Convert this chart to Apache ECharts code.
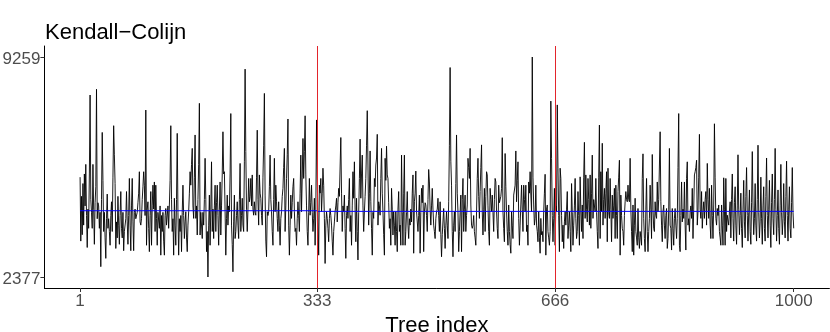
<!DOCTYPE html>
<html><head><meta charset="utf-8">
<script src="https://cdn.jsdelivr.net/npm/echarts@6/dist/echarts.min.js"></script>
<style>html,body{margin:0;padding:0;background:#fff}#c{width:830px;height:332px}</style>
</head><body><div id="c"></div>
<script>
const treeValues = [
5500,3500,4900,3700,5300,4000,5600,4600,5900,4300,
3300,4500,3900,5600,8070,4800,4400,3900,5900,4500,
3400,4700,5200,8250,4200,4700,4600,3900,4400,2700,
4800,6900,5400,3800,4400,3600,2960,4200,4970,3900,
4200,3800,3370,4300,4730,3800,5500,7110,6200,5300,
3270,4100,3600,4900,4000,3400,4300,5050,3900,3600,
4400,3200,3800,3800,4200,5050,4100,3400,4300,5460,
4000,3200,4600,5460,4100,3200,4400,4500,4200,4200,
4400,4700,5000,5670,4100,4000,4200,4800,5200,5670,
5250,4300,7600,3370,4500,4730,3900,3170,4300,5050,
3370,4600,5250,4500,5350,3800,5250,4200,3370,4400,
4420,3900,4600,3060,4300,3800,4400,3500,3060,4300,
4520,4000,4000,4600,3900,4630,5400,7110,4800,3800,
4200,3060,4840,4000,3370,4800,6870,4400,3060,4200,
3800,4300,3170,4400,5250,4300,3580,4100,4420,3600,
3170,4000,4420,5000,5670,5250,5900,6400,4600,4210,
5500,6820,4210,4600,3690,4800,5900,7810,3690,4400,
4420,3580,4400,4000,4800,6090,4800,3170,3800,2377,
4000,4940,3370,4500,5980,3800,4500,3580,4600,5250,
3800,4700,5250,4300,3370,4500,5350,3690,4600,5600,
6920,5600,5670,4420,3060,4200,4940,4000,4600,4420,
5600,7490,4000,3400,2540,4100,4940,3580,3800,4300,
4730,4000,3580,4800,5930,3800,4300,4840,4000,3800,
6000,8880,6300,4500,3800,4500,5460,4730,4900,5460,
4600,5570,4500,4310,4730,4400,4310,5500,6970,4800,
4000,5570,5000,4840,4300,4000,5500,6500,8120,4940,
3500,3010,4420,4300,4420,5200,6190,4800,4420,3800,
3370,4800,6090,4420,5250,4730,4200,3800,4730,4000,
3370,4200,4420,4900,5150,5800,6400,3800,4600,5460,
6200,7320,4000,3060,4000,4940,4210,4700,5200,5460,
4420,3800,3900,3370,4200,4730,4300,3800,5000,6190,
4420,5500,6710,5460,6300,7420,5570,4600,3800,3370,
4400,5460,4310,4700,5250,4400,3800,4200,4840,3370,
4500,7290,5500,4100,3060,5250,5000,5460,4420,5000,
5780,5250,4200,2800,4000,4420,4210,3900,3480,4200,
4520,4300,4000,3500,3060,3800,4100,4420,4600,4840,
4100,4700,5150,4900,4840,6740,5000,3800,4600,4420,
4940,3900,2960,4310,4600,4210,4800,5460,3800,4300,
3370,4600,5670,4840,5980,4500,3480,4840,3800,2910,
4400,5460,6690,4840,5600,6190,4600,3800,4420,4900,
5460,6500,7580,5880,4000,5000,6320,4730,3900,3060,
4400,4210,5460,5200,5880,6100,6840,4000,4730,4600,
4310,5460,6400,5000,4420,3700,3060,6090,5400,6470,
5570,5460,4700,3900,4200,3370,5150,4500,3690,4420,
4000,3370,4420,3800,3170,4500,5050,3800,4000,3370,
6190,4400,3370,5000,6190,3370,3800,4400,5050,4000,
3580,4200,4000,4500,4100,5000,5570,3120,4730,5000,
5690,4420,4400,3800,4300,4940,3120,4400,5150,4700,
5250,3170,4420,4700,4630,4300,3800,4800,5740,5350,
4500,4000,4600,5150,4500,4000,3800,3580,4200,4420,
4500,4840,4300,3800,4730,3700,3010,3700,3690,4520,
3900,3270,4000,4420,4000,3580,4730,6500,8930,6000,
5250,3800,3010,4000,4420,3800,5300,6820,5000,4420,
3170,3800,4400,4940,3170,4800,5460,3800,4500,4940,
3800,4300,4630,6090,5800,5460,6400,4630,4000,3900,
4000,4300,3800,3600,3370,3370,5460,6090,4900,4210,
5050,5800,6510,4420,3690,4500,5150,3800,4900,5670,
5570,4600,3800,3370,5150,4800,4420,4940,4400,3800,
4800,5460,5350,4420,3900,3580,5250,4700,4730,4900,
5150,6735,4420,3900,3480,6240,5200,4420,3800,3370,
4630,3800,3400,3120,4420,4000,3580,4940,5000,5250,
6320,4730,5400,5980,4210,3370,4000,4630,5250,4500,
3800,5250,4800,4420,5250,3800,4000,3370,5350,5000,
5670,4940,4420,9259,5500,4630,4000,4210,5250,4000,
3800,3480,4420,3600,3120,4210,3700,3800,3480,4420,
5000,5590,3060,4500,4630,3800,3600,3370,3800,7880,
6090,4300,3480,4200,5150,3370,4600,4420,7760,5780,
4300,3170,5780,5460,4300,3480,4000,3270,4100,4420,
4000,4500,5050,3580,4000,4420,3800,3170,5300,4400,
3370,4000,4600,5460,4200,3580,3800,5050,4300,3370,
5510,4500,3800,4630,3580,5500,6590,4210,5570,4500,
4100,5460,4800,4000,5570,3900,5000,6190,4210,4800,
4840,4420,5460,4400,3800,3270,5500,7130,3580,5670,
4420,6560,4000,4800,5150,4210,5000,5670,3480,5780,
4400,4210,5460,4500,3480,4940,4210,4600,5150,3580,
5250,4300,3580,5050,5500,6030,3060,4940,4300,3900,
3800,3370,4300,4730,5050,4800,4730,5250,4800,4730,
6090,4500,3800,3170,4630,3060,4000,4840,3800,3600,
3370,4520,3600,3270,3800,3600,3370,5460,6230,4200,
3580,3170,4500,5460,3800,3170,3800,4210,5250,4500,
3580,6210,4500,3900,3800,4730,4300,4210,5350,4420,
4800,4840,6920,4730,4000,3480,4420,4630,4000,3580,
4300,4520,3270,3580,4500,6400,4000,3900,3220,4520,
3900,3370,4210,4520,4000,3580,4210,5800,7490,3370,
3170,4300,5350,4100,4500,4210,5350,4000,3220,5460,
5980,4000,4200,3800,4420,4600,4210,5150,3580,4500,
5570,5670,5800,6030,4000,4420,5500,6840,4500,4210,
5050,3900,4400,4730,4210,4800,5050,4000,5930,4800,
4210,5150,4000,3580,5250,4300,3580,4630,7170,5500,
4210,4000,4520,4300,4630,3800,3600,3370,4630,4000,
3370,5480,4500,3370,5460,3800,4310,4300,4000,4420,
4730,3600,4800,5600,4200,3500,4700,5200,4000,3400,
4600,6200,4500,3700,4300,5000,3900,3300,4500,5400,
4100,3600,4900,5800,4300,3500,4400,5100,3800,3400,
4700,6300,4600,3700,4200,5300,4000,3500,4800,6500,
4400,3600,4100,5500,4200,3400,4600,5200,3900,3500,
4900,6100,4300,3600,4500,5400,4000,3300,4700,5600,
4200,3700,4800,6400,4500,3500,4300,5100,3900,3400,
4600,5900,4400,3700,4200,5300,4100,3600,4900,6000,
4300,3500,4500,5200,3900,3600,4700,5800,4400,3900
];
const xTickValues = [1, 333, 666, 1000];
const yTickValues = [2377, 9259];
const splitIndices = [333, 666];
const meanSegStart = [1, 333, 666];
const meanSegEnd = [333, 666, 1000];
const meanSegValue = [4450, 4430, 4430];

const chart = echarts.init(document.getElementById('c'), null, {renderer: 'canvas'});
const FONT = 'Liberation Sans, Arial, Helvetica, sans-serif';
const traceData = treeValues.map((v, i) => [i + 1, v]);
const xMin = 1 - 0.05 * 999, xMax = 1000 + 0.05 * 999;
const yR = 9259 - 2377;
const yMin = 2377 - 0.05 * yR, yMax = 9259 + 0.05 * yR;

const meanSeries = meanSegStart.map((s, k) => ({
  type: 'line', silent: true, showSymbol: false, symbol: 'none', z: 3,
  data: [[s, meanSegValue[k]], [meanSegEnd[k], meanSegValue[k]]],
  lineStyle: {color: '#0000ff', width: 1}, animation: false
}));

chart.setOption({
  animation: false,
  backgroundColor: '#ffffff',
  title: {
    text: 'Kendall\u2212Colijn', left: 40, top: 17,
    textStyle: {fontFamily: FONT, fontSize: 22, fontWeight: 'normal', color: '#000'}
  },
  grid: {left: 44.4, right: 0.6, top: 46, bottom: 44, containLabel: false, outerBoundsMode: 'none'},
  xAxis: {
    type: 'value', min: xMin, max: xMax,
    name: 'Tree index', nameLocation: 'middle', nameGap: 18,
    nameTextStyle: {fontFamily: FONT, fontSize: 22, color: '#000'},
    axisLine: {show: true, onZero: false, lineStyle: {color: '#000', width: 1}},
    axisTick: {show: true, customValues: xTickValues, length: 4, lineStyle: {color: '#333', width: 1}},
    axisLabel: {customValues: xTickValues, formatter: v => String(v), fontFamily: FONT, fontSize: 17, color: '#4d4d4d', margin: 5},
    splitLine: {show: false}
  },
  yAxis: {
    type: 'value', min: yMin, max: yMax,
    axisLine: {show: true, onZero: false, lineStyle: {color: '#000', width: 1}},
    axisTick: {show: true, customValues: yTickValues, length: 4, lineStyle: {color: '#333', width: 1}},
    axisLabel: {
      customValues: yTickValues, margin: 4,
      formatter: v => '{t|' + v + '}',
      rich: {t: {fontFamily: FONT, fontSize: 17, color: '#4d4d4d', padding: [4, 0, 0, 0]}}
    },
    splitLine: {show: false}
  },
  series: [
    {
      type: 'line', data: traceData, showSymbol: false, symbol: 'none', sampling: 'none',
      lineStyle: {color: '#000', width: 0.9}, z: 2, silent: true
    },
    ...meanSeries,
    {
      type: 'line', data: [], z: 4, silent: true,
      markLine: {
        silent: true, symbol: 'none', label: {show: false},
        lineStyle: {color: '#e3242b', width: 1, type: 'solid'},
        data: splitIndices.map(v => ({xAxis: v}))
      }
    }
  ]
});
</script>
</body></html>
